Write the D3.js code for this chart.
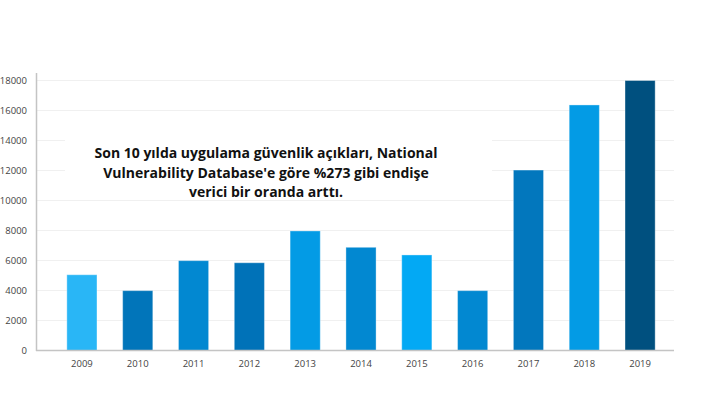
<!DOCTYPE html>
<html>
  <head>
    <script src="https://d3js.org/d3.v7.min.js"></script>
    <style>
      body {margin: 0; background: #fff;}
      .tick text {font-family: "Open Sans", sans-serif; font-size: 9.5px; fill: #444;}
      .note {font-family: "Open Sans", sans-serif; font-weight: bold; font-size: 14px; fill: #111;}
    </style>
  </head>
  <body>
    <svg width="708" height="399"></svg>
  </body>
  <script>
    var years = ["2009","2010","2011","2012","2013","2014","2015","2016","2017","2018","2019"];
    var counts = [5050, 3990, 5990, 5850, 7970, 6880, 6370, 3990, 12030, 16370, 18000];
    var barColors = ["#29b6f6","#0175ba","#0288d1","#0072b8","#039be5","#0288d1","#03a9f4","#0288d1","#0277bd","#039be5","#00507f"];
    var yTicks = [0,2000,4000,6000,8000,10000,12000,14000,16000,18000];
    var noteLines = ["Son 10 yılda uygulama güvenlik açıkları, National",
                     "Vulnerability Database'e göre %273 gibi endişe",
                     "verici bir oranda arttı."];

    var svg = d3.select("svg");

    var x = d3.scaleBand().domain(years).range([54, 668]).paddingInner(0.46).paddingOuter(0.23);
    var y = d3.scaleLinear().domain([0, 18000]).range([350.5, 80.5]);

    // faint gridlines
    svg.append("g").selectAll("line")
      .data(yTicks.slice(1))
      .enter().append("line")
      .attr("x1", 36).attr("x2", 674)
      .attr("y1", function(d) {return y(d)})
      .attr("y2", function(d) {return y(d)})
      .attr("stroke", "#f0f0f0")
      .attr("stroke-width", 1);

    // white box behind the note hides part of the grid
    svg.append("rect")
      .attr("x", 65).attr("y", 118).attr("width", 427).attr("height", 76)
      .attr("fill", "#fff");

    svg.append("g").selectAll("rect")
      .data(counts)
      .enter().append("rect")
      .attr("x", function(d, i) {return x(years[i])})
      .attr("width", x.bandwidth())
      .attr("y", function(d) {return y(d)})
      .attr("height", function(d) {return y(0) - y(d)})
      .attr("fill", function(d, i) {return barColors[i]})
      .attr("stroke", "#ffffff")
      .attr("stroke-opacity", 0.35)
      .attr("stroke-width", 1);

    var yAxis = d3.axisLeft(y).tickValues(yTicks).tickSize(0).tickPadding(9).tickFormat(d3.format("d"));
    var gy = svg.append("g").attr("transform", "translate(36,0)").call(yAxis);
    gy.select(".domain").remove();
    gy.selectAll(".tick text").attr("dy", "0.32em");

    var xAxis = d3.axisBottom(x).tickSize(0).tickPadding(10);
    var gx = svg.append("g").attr("transform", "translate(0,350.5)").call(xAxis);
    gx.select(".domain").remove();

    svg.append("line")
      .attr("x1", 36.5).attr("x2", 36.5).attr("y1", 73).attr("y2", 351)
      .attr("stroke", "#c4c4c4").attr("stroke-width", 1.5);
    svg.append("line")
      .attr("x1", 36).attr("x2", 674).attr("y1", 350.5).attr("y2", 350.5)
      .attr("stroke", "#c4c4c4").attr("stroke-width", 1.5);

    svg.append("g").selectAll("text")
      .data(noteLines)
      .enter().append("text")
      .attr("class", "note")
      .attr("text-anchor", "middle")
      .attr("x", 266)
      .attr("y", function(d, i) {return 158 + i * 19.5})
      .text(function(d) {return d});
  </script>
</html>
